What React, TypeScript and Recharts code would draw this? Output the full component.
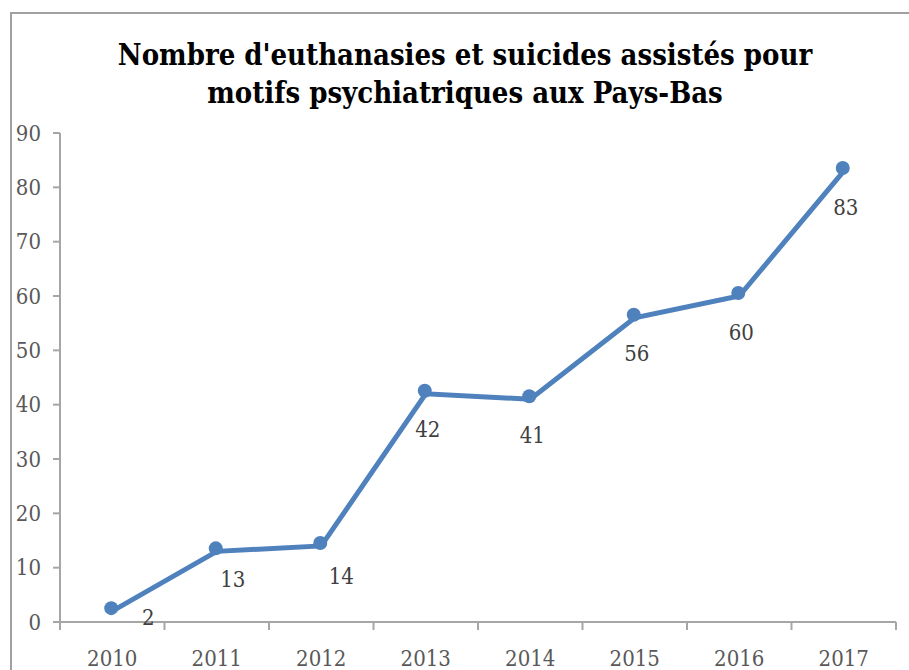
import { LineChart, Line, XAxis, YAxis } from "recharts";

const years = [2010, 2011, 2012, 2013, 2014, 2015, 2016, 2017];
const cases = [2, 13, 14, 42, 41, 56, 60, 83];
const yTicks = [0, 10, 20, 30, 40, 50, 60, 70, 80, 90];
const titleLines = [
  "Nombre d'euthanasies et suicides assistés pour",
  "motifs psychiatriques aux Pays-Bas",
];

const data = years.map((year, i) => ({ year, value: cases[i] }));
// tick marks sit between the years, like Excel's category axis
const bounds = [...years.map((y) => y - 0.5), years[years.length - 1] + 0.5];

const W = 909;
const H = 670;
const margin = { top: 133, right: 13, bottom: 0, left: 10 };
const yAxisW = 50;
const plotW = W - margin.left - margin.right - yAxisW;
const band = plotW / years.length;

const serif = "'DejaVu Serif Condensed', 'DejaVu Serif', serif";
const axisGray = "#a6a6a6";
const tickGray = "#595959";
const blue = "#4f81bd";

// Excel moved the first few labels to the right of their points
const labelShift: Record<number, [number, number]> = {
  0: [36, 6],
  1: [16, 28],
  2: [20, 31],
};

const PointLabel = (props: any) => {
  const { x, y, value, index } = props;
  const [dx, dy] = labelShift[index] ?? [2, 36];
  return (
    <text
      x={x + dx}
      y={y + dy}
      textAnchor="middle"
      dominantBaseline="central"
      fontFamily={serif}
      fontSize={22}
      fill="#404040"
    >
      {value}
    </text>
  );
};

// markers in the original sit a touch above-left of the line's vertices
const Marker = (props: any) => {
  const { cx, cy } = props;
  return <circle cx={cx - 1} cy={cy - 3} r={7} fill={blue} />;
};

const YearTick = (props: any) => {
  const { x, y, payload, index } = props;
  if (index >= years.length) return <g />;
  return (
    <text
      x={x + band / 2}
      y={y + 26}
      textAnchor="middle"
      dominantBaseline="central"
      fontFamily={serif}
      fontSize={22}
      fill={tickGray}
    >
      {payload.value + 0.5}
    </text>
  );
};

export default function App() {
  return (
    <div
      style={{
        position: "absolute",
        left: 0,
        top: 0,
        width: W,
        height: H,
        overflow: "hidden",
        background: "#fff",
      }}
    >
      <div
        style={{
          position: "absolute",
          left: 10,
          top: 12,
          width: 960,
          height: 720,
          border: "2px solid #a0a0a0",
        }}
      />
      <div
        style={{
          position: "absolute",
          left: 0,
          top: 36,
          width: 930,
          textAlign: "center",
          fontFamily: serif,
          fontWeight: "bold",
          fontSize: 29,
          lineHeight: "38px",
          color: "#000",
        }}
      >
        {titleLines.map((t) => (
          <div key={t}>{t}</div>
        ))}
      </div>
      <div style={{ position: "absolute", left: 0, top: 0 }}>
        <LineChart width={W} height={H} data={data} margin={margin}>
          <XAxis
            dataKey="year"
            type="number"
            domain={[bounds[0], bounds[bounds.length - 1]]}
            ticks={bounds}
            interval={0}
            height={48}
            tickSize={8}
            stroke={axisGray}
            strokeWidth={2}
            tick={<YearTick />}
          />
          <YAxis
            domain={[0, 90]}
            ticks={yTicks}
            width={yAxisW}
            tickSize={7}
            tickMargin={12}
            stroke={axisGray}
            strokeWidth={2}
            tick={{ fontFamily: serif, fontSize: 22, fill: tickGray }}
          />
          <Line
            dataKey="value"
            stroke={blue}
            strokeWidth={5}
            strokeLinejoin="miter"
            dot={<Marker />}
            label={<PointLabel />}
            isAnimationActive={false}
          />
        </LineChart>
      </div>
    </div>
  );
}
